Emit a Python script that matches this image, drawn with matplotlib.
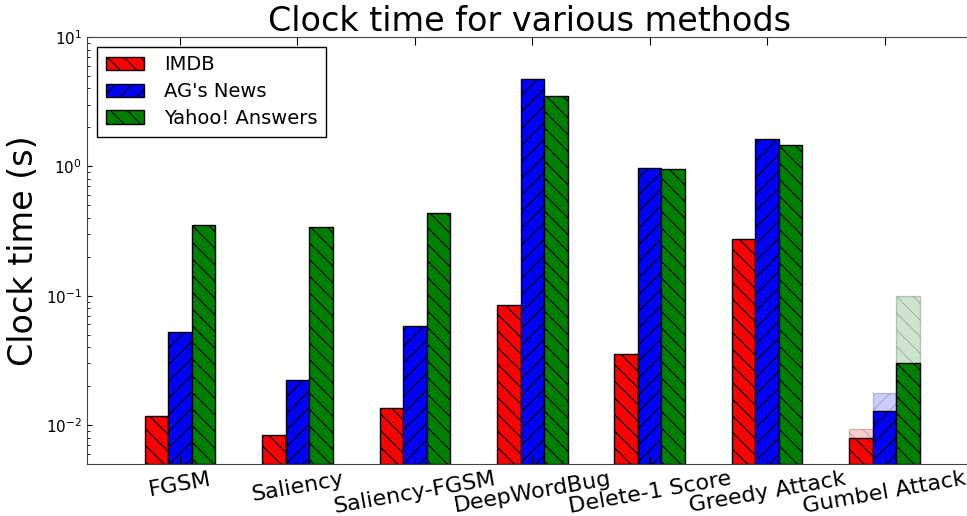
import matplotlib
matplotlib.use("Agg")
import matplotlib.pyplot as plt
import numpy as np

methods = ["FGSM", "Saliency", "Saliency-FGSM", "DeepWordBug",
           "Delete-1 Score", "Greedy Attack", "Gumbel Attack"]
imdb = [0.0117, 0.0084, 0.0136, 0.084, 0.0355, 0.272, 0.0079]
agnews = [0.0526, 0.0223, 0.0585, 4.72, 0.964, 1.62, 0.0128]
yahoo = [0.355, 0.337, 0.432, 3.49, 0.95, 1.45, 0.0302]
# faded upper bars for Gumbel Attack
gumbel_upper = [0.0093, 0.0177, 0.10]

datasets = ["IMDB", "AG's News", "Yahoo! Answers"]
colors = ["red", "blue", "green"]
hatches = ["\\\\", "//", "\\\\"]

plt.rcParams["hatch.linewidth"] = 0.8
fig = plt.figure(figsize=(9.67, 5.16), dpi=100)
ax = fig.add_axes([0.09, 0.1008, 0.916, 0.8275])

x = np.arange(len(methods))
width = 0.2
bottom = 0.005
for i, (vals, name) in enumerate(zip([imdb, agnews, yahoo], datasets)):
    pos = x + (i - 1) * width
    # faded bar for Gumbel
    ax.bar(pos[-1], gumbel_upper[i] - bottom, width, bottom=bottom,
           color=colors[i], alpha=0.2, hatch=hatches[i], edgecolor="black",
           linewidth=1)
    ax.bar(pos, np.array(vals) - bottom, width, bottom=bottom, color=colors[i],
           hatch=hatches[i], edgecolor="black", linewidth=1, label=name)

ax.set_yscale("log")
ax.set_ylim(bottom, 10)
ax.set_xlim(-0.79, 6.75)
ax.set_xticks(x)
ax.set_xticklabels(methods, rotation=10, fontsize=16, ha="center")
ax.tick_params(axis="both", direction="in", top=True, right=True)
ax.tick_params(axis="y", which="minor", direction="in", right=True)
ax.tick_params(axis="x", length=6)
ax.tick_params(axis="y", labelsize=11)
ax.set_ylabel("Clock time (s)", fontsize=24)
ax.set_title("Clock time for various methods", fontsize=24, pad=4)
for s in ax.spines.values():
    s.set_color("#444444")

leg = ax.legend(loc="upper left", fontsize=14, fancybox=False,
                framealpha=1, edgecolor="black", borderpad=0.45,
                handlelength=2.0, labelspacing=0.4, handletextpad=1.0)
leg.get_frame().set_linewidth(1)

fig.savefig("out.png", dpi=100)
